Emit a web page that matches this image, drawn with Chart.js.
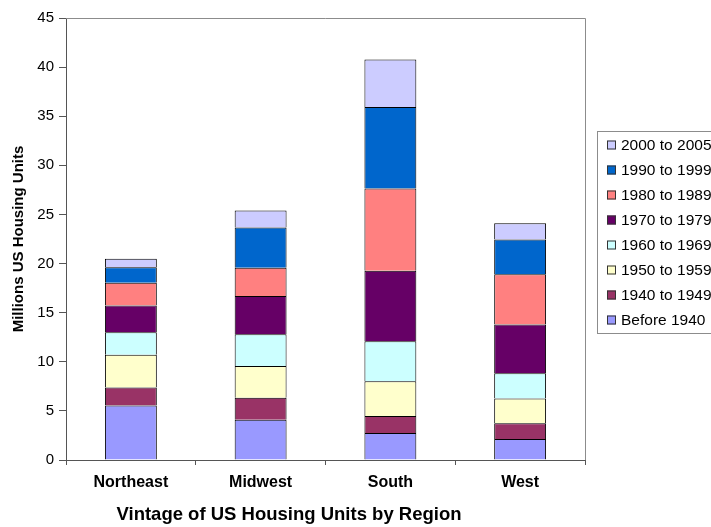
<!DOCTYPE html>
<html>
<head>
<meta charset="utf-8">
<script src="https://cdn.jsdelivr.net/npm/chart.js@4"></script>
<style>
  html, body { margin: 0; padding: 0; background: #fff; overflow: hidden; }
  #wrap { width: 711px; height: 527px; }
</style>
</head>
<body>
<div id="wrap"><canvas id="housingChart" width="711" height="527"></canvas></div>
<script>
// regions + values (millions of units)
const regions = ['Northeast', 'Midwest', 'South', 'West'];
const vintageLabels = ['Before 1940', '1940 to 1949', '1950 to 1959', '1960 to 1969',
                       '1970 to 1979', '1980 to 1989', '1990 to 1999', '2000 to 2005'];
const before1940 = [5.55, 4.1, 2.75, 2.15];
const from1940s = [1.83, 2.24, 1.73, 1.59];
const from1950s = [3.33, 3.22, 3.53, 2.52];
const from1960s = [2.3, 3.23, 4.07, 2.58];
const from1970s = [2.72, 3.9, 7.2, 4.96];
const from1980s = [2.31, 2.89, 8.35, 5.12];
const from1990s = [1.59, 4.1, 8.31, 3.53];
const from2000s = [0.86, 1.73, 4.83, 1.66];
const yTicks = [0, 5, 10, 15, 20, 25, 30, 35, 40, 45];

const seriesValues = [before1940, from1940s, from1950s, from1960s, from1970s, from1980s, from1990s, from2000s];
const seriesColors = ['#9999FF', '#993366', '#FFFFCC', '#CCFFFF', '#660066', '#FF8080', '#0066CC', '#CCCCFF'];

const FONT = "'Liberation Sans', Arial, sans-serif";

// grey box round the plot area
const plotBorder = {
    id: 'plotBorder',
    afterDatasetsDraw(chart) {
        const { ctx, chartArea: a } = chart;
        ctx.save();
        ctx.strokeStyle = '#8c8c8c';
        ctx.lineWidth = 1;
        ctx.beginPath();
        ctx.moveTo(a.left, a.top + 0.5);
        ctx.lineTo(a.right + 0.5, a.top + 0.5);
        ctx.lineTo(a.right + 0.5, a.bottom);
        ctx.stroke();
        ctx.restore();
    }
};

// legend drawn by hand, reversed like Excel does it
const sideLegend = {
    id: 'sideLegend',
    afterDraw(chart) {
        const { ctx } = chart;
        const x0 = 597, y0 = 131, rowH = 25;
        ctx.save();
        ctx.strokeStyle = '#8c8c8c';
        ctx.lineWidth = 1;
        ctx.strokeRect(x0 + 0.5, y0 + 0.5, 200, 202);
        ctx.font = '15.5px ' + FONT;
        ctx.textBaseline = 'middle';
        const n = chart.data.datasets.length;
        for (let i = 0; i < n; i++) {
            const ds = chart.data.datasets[n - 1 - i];
            const cy = y0 + 14 + i * rowH;
            ctx.fillStyle = ds.backgroundColor;
            ctx.fillRect(607, cy - 4.5, 9, 9);
            ctx.strokeStyle = '#333';
            ctx.strokeRect(607.5, cy - 4, 8, 8);
            ctx.fillStyle = '#000';
            ctx.fillText(ds.label, 621, cy + 1);
        }
        ctx.restore();
    }
};

const bottomTitle = {
    id: 'bottomTitle',
    afterDraw(chart) {
        const { ctx } = chart;
        ctx.save();
        ctx.font = 'bold 18.5px ' + FONT;
        ctx.fillStyle = '#000';
        ctx.textAlign = 'center';
        ctx.textBaseline = 'middle';
        ctx.fillText('Vintage of US Housing Units by Region', 289, 515);
        ctx.restore();
    }
};

new Chart(document.getElementById('housingChart'), {
    type: 'bar',
    data: {
        labels: regions,
        datasets: seriesValues.map((vals, i) => ({
            label: vintageLabels[i],
            data: vals,
            backgroundColor: seriesColors[i],
            borderColor: '#000',
            borderWidth: 1,
            barPercentage: 0.4,
            categoryPercentage: 1.0
        }))
    },
    options: {
        responsive: false,
        animation: false,
        layout: { padding: { top: 18, right: 126, left: 0, bottom: 0 } },
        plugins: { legend: { display: false }, tooltip: { enabled: false } },
        scales: {
            x: {
                stacked: true,
                afterFit(s) { s.height = 67; },
                grid: { offset: true, drawOnChartArea: false, tickLength: 5, color: '#555' },
                border: { color: '#555' },
                ticks: { color: '#000', padding: 8, font: { family: FONT, size: 16, weight: 'bold' } }
            },
            y: {
                stacked: true,
                min: 0,
                max: 45,
                afterFit(s) { s.width = 66; },
                afterBuildTicks(s) { s.ticks = yTicks.map(v => ({ value: v })); },
                grid: { drawOnChartArea: false, tickLength: 7, color: '#555' },
                border: { color: '#555' },
                ticks: { color: '#000', padding: 5, font: { family: FONT, size: 15 } },
                title: {
                    display: true,
                    text: 'Millions US Housing Units',
                    color: '#000',
                    padding: { top: 10, bottom: 0 },
                    font: { family: FONT, size: 15, weight: 'bold' }
                }
            }
        }
    },
    plugins: [plotBorder, sideLegend, bottomTitle]
});
</script>
</body>
</html>
